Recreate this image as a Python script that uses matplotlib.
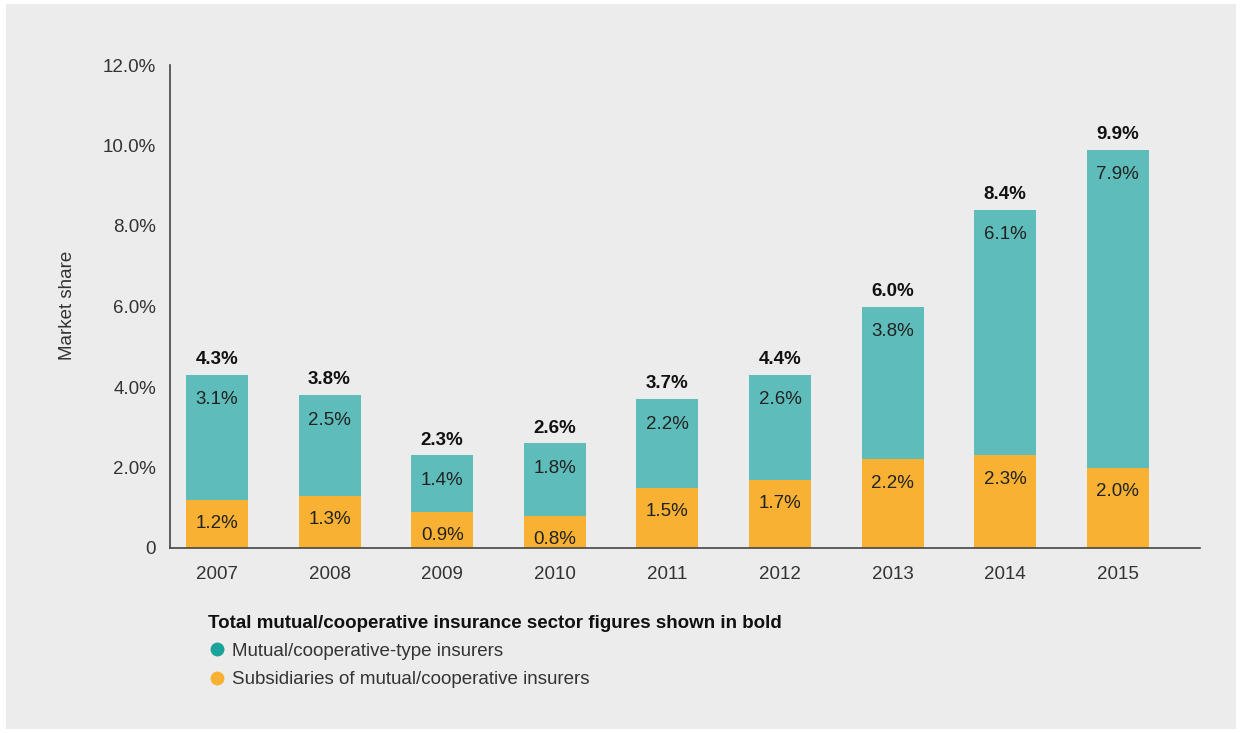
import matplotlib
matplotlib.use("Agg")
import matplotlib.pyplot as plt
from matplotlib.lines import Line2D
from matplotlib.patches import Rectangle
import numpy as np

years = ["2007", "2008", "2009", "2010", "2011", "2012", "2013", "2014", "2015"]
subsidiaries = [1.2, 1.3, 0.9, 0.8, 1.5, 1.7, 2.2, 2.3, 2.0]
mutual = [3.1, 2.5, 1.4, 1.8, 2.2, 2.6, 3.8, 6.1, 7.9]
totals = [4.3, 3.8, 2.3, 2.6, 3.7, 4.4, 6.0, 8.4, 9.9]
yticks = [0, 2, 4, 6, 8, 10, 12]
ytick_labels = ["0", "2.0%", "4.0%", "6.0%", "8.0%", "10.0%", "12.0%"]

TEAL = "#5ebdba"
ORANGE = "#f8b133"
TEAL_DOT = "#1aa39b"
BG = "#ececec"
TXT = "#222222"

plt.rcParams["font.family"] = ["Liberation Sans", "DejaVu Sans"]

fig = plt.figure(figsize=(12.4, 7.33), dpi=100, facecolor="white")
fig.patches.append(Rectangle((6 / 1240, 1 - 729 / 733), 1230 / 1240, 725 / 733,
                             transform=fig.transFigure, facecolor=BG,
                             edgecolor="none", zorder=-10))

ax = fig.add_axes([170 / 1240, 1 - 548 / 733, 1030 / 1240, 483 / 733])
ax.set_facecolor("none")

x = np.arange(len(years))
w = 0.55
ax.bar(x, subsidiaries, w, color=ORANGE, zorder=2)
ax.bar(x, mutual, w, bottom=subsidiaries, color=TEAL, zorder=2)

fs = 13.5
for i in range(len(years)):
    top_sub = subsidiaries[i]
    top_tot = subsidiaries[i] + mutual[i]
    ax.annotate(f"{subsidiaries[i]:.1f}%", (x[i], top_sub), xytext=(0, -17),
                textcoords="offset points", ha="center", va="center",
                fontsize=fs, color=TXT)
    ax.annotate(f"{mutual[i]:.1f}%", (x[i], top_tot), xytext=(0, -18),
                textcoords="offset points", ha="center", va="center",
                fontsize=fs, color=TXT)
    ax.annotate(f"{totals[i]:.1f}%", (x[i], top_tot), xytext=(0, 11),
                textcoords="offset points", ha="center", va="center",
                fontsize=fs, color="#111111", fontweight="bold")

ax.set_xlim(-0.417, 8.73)
ax.set_ylim(0, 12)
ax.set_yticks(yticks)
ax.set_yticklabels(ytick_labels)
ax.set_xticks(x)
ax.set_xticklabels(years)
ax.tick_params(axis="both", length=0, labelsize=fs, colors="#333333")
ax.tick_params(axis="y", pad=10)
ax.tick_params(axis="x", pad=13)
for s in ["top", "right"]:
    ax.spines[s].set_visible(False)
for s in ["left", "bottom"]:
    ax.spines[s].set_color("#444444")
    ax.spines[s].set_linewidth(1.2)

fig.text(67 / 1240, 1 - 305 / 733, "Market share", rotation=90, ha="center",
         va="center", fontsize=fs, color="#333333")

handles = [
    Line2D([], [], marker="o", linestyle="none", markersize=10,
           markerfacecolor=TEAL_DOT, markeredgecolor="none",
           label="Mutual/cooperative-type insurers"),
    Line2D([], [], marker="o", linestyle="none", markersize=10,
           markerfacecolor=ORANGE, markeredgecolor="none",
           label="Subsidiaries of mutual/cooperative insurers"),
]
leg = fig.legend(handles=handles, loc="upper left",
                 bbox_to_anchor=(200 / 1240, 1 - 607 / 733),
                 frameon=False, fontsize=fs, handletextpad=0.3,
                 handlelength=1.0, labelspacing=0.62, borderaxespad=0,
                 title="Total mutual/cooperative insurance sector figures shown in bold",
                 title_fontproperties={"weight": "bold", "size": fs},
                 alignment="left")
leg._legend_box.sep = 8
for t in leg.get_texts():
    t.set_color("#333333")
leg.get_title().set_color("#111111")

fig.savefig("out.png", dpi=100, facecolor="white")
